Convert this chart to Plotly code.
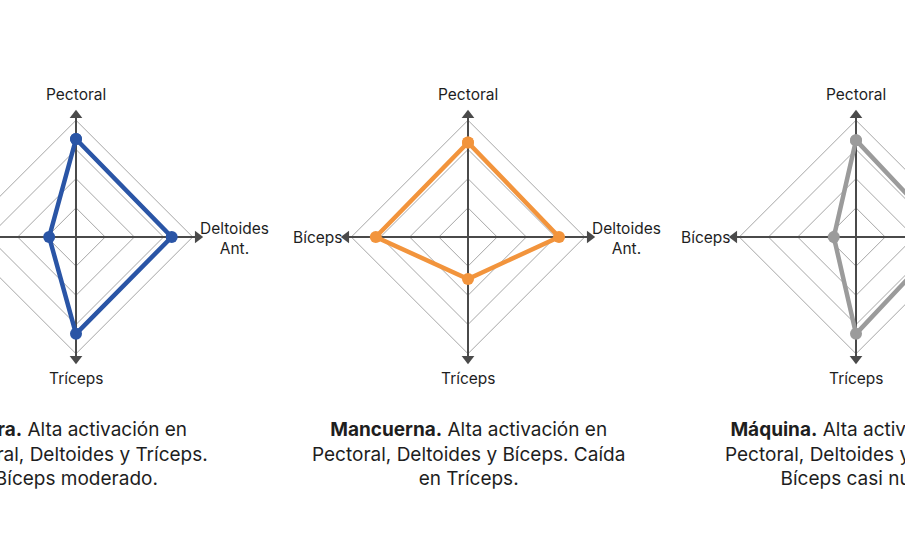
import plotly.graph_objects as go

# ---------------- data ----------------
axis_labels = ["Pectoral", "Deltoides<br>Ant.", "Tríceps", "Bíceps"]
barra = [84, 82, 83, 23]
mancuerna = [81, 78, 36, 79]
maquina = [83, 78, 83, 19]
ring_levels = [25, 50, 75, 100]
series_names = ["Barra", "Mancuerna", "Máquina"]
series_colors = ["#2a55a6", "#f2943c", "#9b9b9b"]
caption_bold = ["Barra.", "Mancuerna.", "Máquina."]
caption_rest = [
    " Alta activación en<br>Pectoral, Deltoides y Tríceps.<br>Bíceps moderado.",
    " Alta activación en<br>Pectoral, Deltoides y Bíceps. Caída<br>en Tríceps.",
    " Alta activación en<br>Pectoral, Deltoides y Tríceps.<br>Bíceps casi nulo.",
]
all_values = [barra, mancuerna, maquina]

# ---------------- layout geometry (pixels) ----------------
W, H = 905, 537
centers_px = [76, 468, 856]
cy_px = 237
R_px = 116.7                  # pixel length of value 100
scale = R_px / 100.0          # px per unit
bounds_px = [0, 272, 662, W]

# directions: Pectoral up, Deltoides right, Tríceps down, Bíceps left
dirs = [(0, 1), (1, 0), (0, -1), (-1, 0)]
arrow_syms = ["triangle-up", "triangle-right", "triangle-down", "triangle-left"]
TIP = 109                     # arrow tip, in value units
FONT = "Inter"

fig = go.Figure()
annotations = []
layout_axes = {}

for i in range(3):
    xa = "x" if i == 0 else f"x{i+1}"
    ya = "y" if i == 0 else f"y{i+1}"
    xkey = "xaxis" if i == 0 else f"xaxis{i+1}"
    ykey = "yaxis" if i == 0 else f"yaxis{i+1}"
    c = centers_px[i]
    x0, x1 = bounds_px[i], bounds_px[i + 1]
    layout_axes[xkey] = dict(
        domain=[x0 / W, x1 / W],
        range=[-(c - x0) / scale, (x1 - c) / scale],
        visible=False, fixedrange=True, anchor=ya,
    )
    layout_axes[ykey] = dict(
        domain=[0, 1],
        range=[-(H - cy_px) / scale, cy_px / scale],
        visible=False, fixedrange=True, anchor=xa,
    )

    # rings (diamonds)
    for lv in ring_levels:
        rx = [dx * lv for dx, dy in dirs] + [dirs[0][0] * lv]
        ry = [dy * lv for dx, dy in dirs] + [dirs[0][1] * lv]
        fig.add_trace(go.Scatter(x=rx, y=ry, mode="lines", xaxis=xa, yaxis=ya,
                                 line=dict(color="#a6a6a6", width=1),
                                 hoverinfo="skip", showlegend=False))
    # axis lines
    ext = TIP - 6 / scale
    fig.add_trace(go.Scatter(x=[-ext, ext, None, 0, 0], y=[0, 0, None, -ext, ext],
                             mode="lines", xaxis=xa, yaxis=ya,
                             line=dict(color="#4a4a4a", width=2),
                             hoverinfo="skip", showlegend=False))
    # arrow heads
    off = TIP - 5.5 / scale
    fig.add_trace(go.Scatter(x=[dx * off for dx, dy in dirs],
                             y=[dy * off for dx, dy in dirs],
                             mode="markers", xaxis=xa, yaxis=ya,
                             marker=dict(symbol=arrow_syms, size=11, color="#4a4a4a"),
                             hoverinfo="skip", showlegend=False))
    # series polygon
    vals = all_values[i]
    px_ = [dx * v for (dx, dy), v in zip(dirs, vals)]
    py_ = [dy * v for (dx, dy), v in zip(dirs, vals)]
    fig.add_trace(go.Scatter(x=px_ + [px_[0]], y=py_ + [py_[0]],
                             mode="lines+markers", xaxis=xa, yaxis=ya,
                             name=series_names[i],
                             line=dict(color=series_colors[i], width=4.5),
                             marker=dict(size=12, color=series_colors[i]),
                             showlegend=False))

    # axis labels
    lab_font = dict(family=FONT, size=15.5, color="#1e1e1e")
    annotations.append(dict(x=0, y=143 / scale, xref=xa, yref=ya, text=axis_labels[0],
                            showarrow=False, xanchor="center", yanchor="middle", font=lab_font))
    annotations.append(dict(x=122 / scale, y=-1 / scale, xref=xa, yref=ya, text=axis_labels[1],
                            showarrow=False, xanchor="left", yanchor="middle", align="center",
                            font=lab_font))
    annotations.append(dict(x=0, y=-141 / scale, xref=xa, yref=ya, text=axis_labels[2],
                            showarrow=False, xanchor="center", yanchor="middle", font=lab_font))
    annotations.append(dict(x=-124 / scale, y=0, xref=xa, yref=ya, text=axis_labels[3],
                            showarrow=False, xanchor="right", yanchor="middle", font=lab_font))
    # caption
    annotations.append(dict(x=0, y=-216.5 / scale, xref=xa, yref=ya,
                            text=f"<b>{caption_bold[i]}</b>{caption_rest[i]}",
                            showarrow=False, xanchor="center", yanchor="middle", align="center",
                            font=dict(family=FONT, size=19, color="#1e1e1e")))

fig.update_layout(
    width=W, height=H,
    margin=dict(l=0, r=0, t=0, b=0),
    paper_bgcolor="#ffffff", plot_bgcolor="#ffffff",
    annotations=annotations,
    **layout_axes,
)

fig.write_html("out.html", config={"displayModeBar": False},
               post_script="document.body.style.margin='0';document.body.style.overflow='hidden';")
